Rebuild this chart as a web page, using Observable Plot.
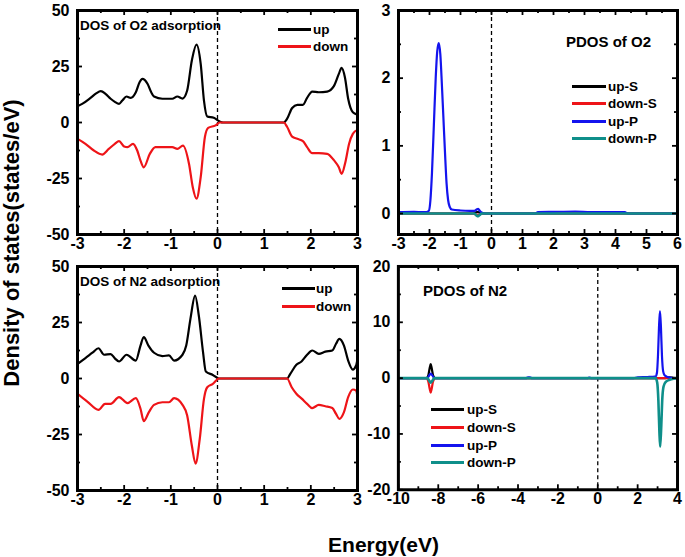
<!DOCTYPE html>
<html>
<head>
<meta charset="utf-8">
<script src="https://cdn.jsdelivr.net/npm/d3@7"></script>
<script src="https://cdn.jsdelivr.net/npm/@observablehq/plot@0.6"></script>
<style>
  html, body { margin: 0; padding: 0; background: #fff; }
  #root { position: relative; width: 685px; height: 557px; overflow: hidden; font-family: "Liberation Sans", Arial, sans-serif; font-weight: bold; color: #000; }
  .abs { position: absolute; white-space: nowrap; }
  .panel { position: absolute; }
  .panel svg { overflow: visible; }
</style>
</head>
<body>
<div id="root"></div>
<script>
// ---------- DATA ----------
// Total DOS, O2 adsorption
const o2UpE   = [-3.0,-2.9,-2.72,-2.6,-2.5,-2.4,-2.29,-2.2,-2.11,-2.04,-1.95,-1.86,-1.75,-1.67,-1.61,-1.5,-1.42,-1.36,-1.18,-0.97,-0.86,-0.75,-0.65,-0.55,-0.45,-0.36,-0.29,-0.22,-0.08,0.05,0.12,1.42,1.49,1.6,1.71,1.83,1.92,2.03,2.17,2.35,2.49,2.6,2.66,2.73,2.8,2.9,3.0];
const o2UpDOS = [7.3,8.3,11,13,14,12.8,10.6,9.2,8.3,9.8,11.6,11,13.5,18,19.5,17.3,13.5,11.6,10.6,10.6,11.6,10.7,14.3,27.7,34.8,26.2,9.8,2.7,2.1,0.4,0,0,1.6,6.5,7.9,7.9,11,13.8,13.5,13.8,16.1,21.7,24.4,20.2,10.6,4.6,3.5];
const o2DownE   = [-3.0,-2.83,-2.65,-2.47,-2.33,-2.2,-2.11,-2.0,-1.93,-1.81,-1.72,-1.65,-1.58,-1.45,-1.33,-0.97,-0.86,-0.74,-0.61,-0.53,-0.45,-0.36,-0.27,-0.2,-0.04,0.05,1.42,1.49,1.6,1.71,1.83,1.92,2.03,2.17,2.35,2.49,2.6,2.66,2.74,2.82,2.9,3.0];
const o2DownDOS = [-7.3,-9.5,-12.5,-14.3,-11.8,-9.5,-8.3,-10.7,-11,-9.5,-12.5,-17,-20,-14,-11,-11,-11.8,-10.3,-18.5,-28.9,-34,-24.4,-6.5,-2.4,-1.3,0,0,-1.9,-6.3,-7.3,-8.3,-11,-13.7,-13.7,-14,-16.7,-20,-22.9,-17.7,-9.5,-5.1,-3.3];

// Total DOS, N2 adsorption
const n2UpE   = [-3.0,-2.83,-2.68,-2.55,-2.43,-2.29,-2.2,-2.11,-1.95,-1.75,-1.65,-1.58,-1.48,-1.36,-1.18,-1.04,-0.93,-0.75,-0.67,-0.58,-0.48,-0.4,-0.31,-0.25,-0.1,0.03,1.49,1.56,1.69,1.8,1.92,2.03,2.17,2.31,2.46,2.54,2.61,2.71,2.8,2.9,2.97,3.0];
const n2UpDOS = [6.5,9.1,11.5,13.5,10.6,10.9,9,7.6,10.6,8,14.7,18.5,14.7,11.5,10,10.3,8,10.6,14.7,26.6,37,28,11.8,3.1,1.6,0,0,2.1,6.1,7.6,10.6,12.5,11,12,12.5,15.5,17.7,14.7,8,4,5.8,8.8];
const n2DownE   = [-3.0,-2.79,-2.55,-2.41,-2.29,-2.11,-1.93,-1.75,-1.65,-1.58,-1.47,-1.36,-1.18,-1.04,-0.93,-0.75,-0.65,-0.55,-0.47,-0.38,-0.29,-0.22,-0.1,0.03,1.49,1.59,1.69,1.81,1.92,2.03,2.17,2.31,2.46,2.54,2.61,2.71,2.8,2.9,2.97,3.0];
const n2DownDOS = [-6.8,-10.3,-14,-11.3,-11.3,-8.3,-11,-8.8,-13.5,-19,-15,-11.8,-10.6,-10.6,-8.8,-11.8,-16.5,-29.9,-38,-26.9,-9.1,-3.9,-2.4,0,0,-3.9,-6.8,-9.1,-11.3,-13.2,-11.8,-12.4,-13.2,-15.8,-18,-15,-8.3,-4.9,-5.4,-8.2];

// PDOS of O2
const o2UpSE = [-3,-0.6,-0.47,-0.43,-0.3,6];
const o2UpS  = [0,0,0.02,0.02,0,0];
const o2DownSE = [-3,-0.6,-0.47,-0.43,-0.3,6];
const o2DownS  = [0,0,-0.02,-0.02,0,0];
const o2UpPE = [-3,-2.5,-2.2,-2.1,-2.02,-1.97,-1.92,-1.86,-1.8,-1.75,-1.7,-1.65,-1.6,-1.55,-1.5,-1.45,-1.4,-1.35,-1.28,-1.0,-0.7,-0.55,-0.48,-0.43,-0.38,-0.3,-0.2,1.4,1.5,2.0,2.7,3.2,4.3,4.4,6];
const o2UpP  = [0.02,0.025,0.02,0.02,0.04,0.2,0.6,1.3,2.0,2.4,2.52,2.35,1.9,1.4,0.9,0.45,0.2,0.1,0.06,0.045,0.04,0.04,0.06,0.07,0.04,0.01,0,0,0.02,0.025,0.03,0.02,0.02,0,0];
const o2DownPE = [-3,-0.55,-0.48,-0.43,-0.38,-0.3,6];
const o2DownP  = [0,0,-0.03,-0.04,-0.02,0,0];

// PDOS of N2
const n2UpSE = [-10,-8.6,-8.5,-8.43,-8.38,-8.33,-8.26,-8.15,3.4,3.6,3.85,4];
const n2UpS  = [0,0,0.5,1.8,2.5,1.8,0.5,0,0,0.15,0.05,0];
const n2DownSE = [-10,-8.6,-8.5,-8.43,-8.38,-8.33,-8.26,-8.15,4];
const n2DownS  = [0,0,-0.6,-1.9,-2.6,-1.9,-0.6,0,0];
const n2UpPE = [-10,-8.55,-8.45,-8.38,-8.3,-8.2,-3.6,-3.5,-3.4,-3.3,-0.5,-0.42,-0.34,1.8,2.0,2.5,2.8,2.9,2.97,3.02,3.07,3.12,3.17,3.22,3.28,3.35,3.5,3.7,3.9,4];
const n2UpP  = [0,0,0.5,0.8,0.5,0,0,0.15,0.15,0,0,0.1,0,0,0.15,0.2,0.25,0.3,1,4,9,12,9,4,1.2,0.5,0.2,0.05,0,0];
const n2DownPE = [-10,-8.55,-8.45,-8.38,-8.3,-8.2,2.9,2.98,3.04,3.09,3.13,3.18,3.24,3.3,3.4,3.6,3.8,4];
const n2DownP  = [0,0,-0.5,-0.8,-0.5,0,0,-0.8,-4,-9.5,-12.3,-9,-3.5,-1.5,-0.7,-0.3,-0.1,0];

// Tick values
const dosXTicks = [-3,-2,-1,0,1,2,3];
const dosXMinor = [-2.5,-1.5,-0.5,0.5,1.5,2.5];
const dosYTicks = [-50,-25,0,25,50];
const dosYMinor = [-37.5,-12.5,12.5,37.5];
const po2XTicks = [-3,-2,-1,0,1,2,3,4,5,6];
const po2XMinor = [-2.5,-1.5,-0.5,0.5,1.5,2.5,3.5,4.5,5.5];
const po2YTicks = [0,1,2,3];
const po2YMinor = [0.5,1.5,2.5];
const pn2XTicks = [-10,-8,-6,-4,-2,0,2,4];
const pn2XMinor = [-9,-7,-5,-3,-1,1,3];
const pn2YTicks = [-20,-10,0,10,20];
const pn2YMinor = [-15,-5,5,15];

// Text
const titles = ["DOS of O2 adsorption", "PDOS of O2", "DOS of N2 adsorption", "PDOS of N2"];
const dosLegend = ["up", "down"];
const pdosLegend = ["up-S", "down-S", "up-P", "down-P"];
const yTitle = "Density of states(states/eV)";
const xTitle = "Energy(eV)";

const COLORS = {black: "#000000", red: "#ee1418", blue: "#1414ee", teal: "#0f8f8a"};
const dosColors = [COLORS.black, COLORS.red];
const pdosColors = [COLORS.black, COLORS.red, COLORS.blue, COLORS.teal];

// ---------- DRAWING ----------
const rows = (xs, ys) => xs.map((x, i) => ({x, y: ys[i]}));
const root = document.getElementById("root");

function panel({left, top, width, height, mL, mR, mT, mB, xDomain, yDomain, series, xT, xM, yT, yM}) {
  const fw = width - mL - mR, fh = height - mT - mB;
  const MAJ = 5, MIN = 3, TW = 1.8;
  const marks = [
    Plot.ruleX([0], {strokeDasharray: "4,3", strokeWidth: 1.3, stroke: "#000"}),
    ...series.map(s => Plot.line(rows(s.x, s.y), {x: "x", y: "y", stroke: s.color, strokeWidth: s.w || 2.2, curve: "monotone-x", clip: true})),
    // inward ticks, bottom / top
    Plot.tickX(xT, {x: d => d, insetTop: fh - MAJ, strokeWidth: TW}),
    Plot.tickX(xM, {x: d => d, insetTop: fh - MIN, strokeWidth: TW}),
    Plot.tickX(xT, {x: d => d, insetBottom: fh - MAJ, strokeWidth: TW}),
    Plot.tickX(xM, {x: d => d, insetBottom: fh - MIN, strokeWidth: TW}),
    // inward ticks, left / right
    Plot.tickY(yT, {y: d => d, insetRight: fw - MAJ, strokeWidth: TW}),
    Plot.tickY(yM, {y: d => d, insetRight: fw - MIN, strokeWidth: TW}),
    Plot.tickY(yT, {y: d => d, insetLeft: fw - MAJ, strokeWidth: TW}),
    Plot.tickY(yM, {y: d => d, insetLeft: fw - MIN, strokeWidth: TW}),
    Plot.frame({stroke: "#000", strokeWidth: 3}),
    Plot.axisX(xT, {tickSize: 0, tickPadding: 3, tickFormat: d => String(d), label: null, fontSize: 16, fontWeight: "bold"}),
    Plot.axisY(yT, {tickSize: 0, tickPadding: 8, tickFormat: d => String(d), label: null, fontSize: 16, fontWeight: "bold"})
  ];
  const svg = Plot.plot({
    width, height,
    marginLeft: mL, marginRight: mR, marginTop: mT, marginBottom: mB,
    x: {domain: xDomain},
    y: {domain: yDomain},
    style: {fontFamily: "Liberation Sans, Arial, sans-serif", fontSize: "16px", fontWeight: "bold", background: "transparent", color: "#000", overflow: "visible"},
    marks
  });
  const div = document.createElement("div");
  div.className = "panel";
  div.style.left = left + "px";
  div.style.top = top + "px";
  div.appendChild(svg);
  root.appendChild(div);
}

panel({left: 0, top: 0, width: 365, height: 256, mL: 77, mR: 8, mT: 10, mB: 22,
  xDomain: [-3, 3], yDomain: [-50, 50], xT: dosXTicks, xM: dosXMinor, yT: dosYTicks, yM: dosYMinor,
  series: [{x: o2UpE, y: o2UpDOS, color: dosColors[0]}, {x: o2DownE, y: o2DownDOS, color: dosColors[1]}]});

panel({left: 360, top: 0, width: 325, height: 256, mL: 38, mR: 8, mT: 10, mB: 22,
  xDomain: [-3, 6], yDomain: [-0.31, 3], xT: po2XTicks, xM: po2XMinor, yT: po2YTicks, yM: po2YMinor,
  series: [{x: o2UpSE, y: o2UpS, color: pdosColors[0]}, {x: o2DownSE, y: o2DownS, color: pdosColors[1]},
           {x: o2UpPE, y: o2UpP, color: pdosColors[2]}, {x: o2DownPE, y: o2DownP, color: pdosColors[3], w: 2.6}]});

panel({left: 0, top: 256, width: 365, height: 256, mL: 77, mR: 8, mT: 10, mB: 22,
  xDomain: [-3, 3], yDomain: [-50, 50], xT: dosXTicks, xM: dosXMinor, yT: dosYTicks, yM: dosYMinor,
  series: [{x: n2UpE, y: n2UpDOS, color: dosColors[0]}, {x: n2DownE, y: n2DownDOS, color: dosColors[1]}]});

panel({left: 360, top: 256, width: 326, height: 256, mL: 38, mR: 8, mT: 10, mB: 22,
  xDomain: [-10, 4], yDomain: [-20, 20], xT: pn2XTicks, xM: pn2XMinor, yT: pn2YTicks, yM: pn2YMinor,
  series: [{x: n2UpSE, y: n2UpS, color: pdosColors[0]}, {x: n2DownSE, y: n2DownS, color: pdosColors[1]},
           {x: n2UpPE, y: n2UpP, color: pdosColors[2]}, {x: n2DownPE, y: n2DownP, color: pdosColors[3], w: 2.6}]});

// ---------- TEXT OVERLAYS ----------
function text(str, x, baseline, fs, extra = {}) {
  const d = document.createElement("div");
  d.className = "abs";
  d.textContent = str;
  d.style.fontSize = fs + "px";
  d.style.lineHeight = fs + "px";
  d.style.left = x + "px";
  d.style.top = (baseline - 0.847 * fs) + "px";
  Object.assign(d.style, extra);
  root.appendChild(d);
  return d;
}
function legend(labels, colors, x1, x2, y0, step, tx, fs) {
  labels.forEach((lab, i) => {
    const y = Math.round(y0 + i * step);
    const ln = document.createElement("div");
    ln.className = "abs";
    Object.assign(ln.style, {left: x1 + "px", top: (y - 1) + "px", width: (x2 - x1) + "px", height: "3px", background: colors[i]});
    root.appendChild(ln);
    text(lab, tx, y + 1 + 0.36 * fs, fs);
  });
}

text(titles[0], 80, 30, 13.5);
text(titles[1], 566, 47, 15);
text(titles[2], 80, 286, 13.5);
text(titles[3], 423, 296, 15);

legend(dosLegend, dosColors, 278, 311, 29, 17, 313, 13.5);
legend(dosLegend, dosColors, 282, 315, 288, 17.5, 316, 13.5);
legend(pdosLegend, pdosColors, 572, 606, 86, 17.3, 608, 13.5);
legend(pdosLegend, pdosColors, 431, 464, 409, 17.8, 467, 13.5);

// axis titles
text(xTitle, 233.5, 552, 21, {width: "300px", textAlign: "center"});
const yt = document.createElement("div");
yt.className = "abs";
yt.textContent = yTitle;
// rotated box: 20px tall line box, its top edge lands at x≈2 after rotation
Object.assign(yt.style, {fontSize: "22px", lineHeight: "20px", width: "340px", height: "20px", textAlign: "center",
  left: (12 - 170) + "px", top: (242.5 - 10) + "px", transform: "rotate(-90deg)", transformOrigin: "50% 50%"});
root.appendChild(yt);
</script>
</body>
</html>
